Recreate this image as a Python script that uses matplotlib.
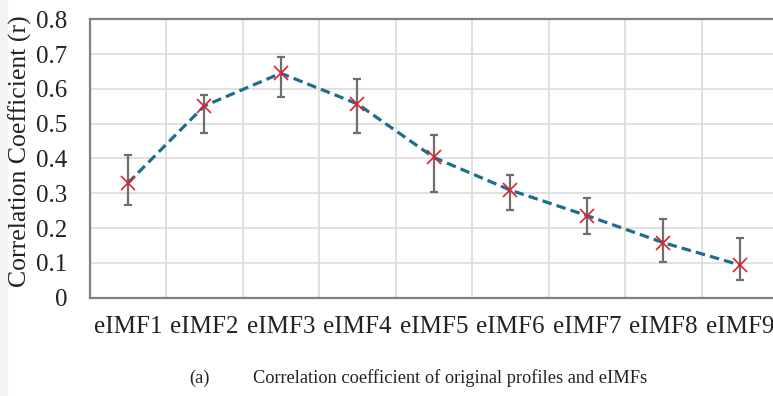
import matplotlib.pyplot as plt
import numpy as np

# correlation coefficient per eIMF, with lower / upper ends of the error bars
labels = ['eIMF1', 'eIMF2', 'eIMF3', 'eIMF4', 'eIMF5', 'eIMF6', 'eIMF7', 'eIMF8', 'eIMF9']
r_mean = [0.329, 0.551, 0.645, 0.557, 0.403, 0.309, 0.236, 0.158, 0.094]
r_low = [0.266, 0.472, 0.578, 0.474, 0.305, 0.251, 0.183, 0.102, 0.051]
r_high = [0.410, 0.583, 0.691, 0.629, 0.467, 0.353, 0.286, 0.226, 0.171]

LINE_C = '#1d6e8e'
MARK_C = '#e3212b'
ERR_C = '#6e6e6e'
GRID_C = '#dcdcdc'
SPINE_C = '#808080'

x = np.arange(len(labels))
y = np.array(r_mean)
yerr = np.array([y - np.array(r_low), np.array(r_high) - y])

fig = plt.figure(figsize=(7.73, 3.96), dpi=100)
fig.patch.set_facecolor('white')
# thin grey strip on the left border of the page scan
fig.add_artist(plt.Rectangle((0, 0), 7 / 773, 1, transform=fig.transFigure,
                             color='#f2f3f5', zorder=0))

ax = fig.add_axes([89.5 / 773, 1 - 297.7 / 396, 688.8 / 773, 278.4 / 396])

ax.errorbar(x, y, yerr=yerr, fmt='none', ecolor=ERR_C, elinewidth=1.6,
            capsize=3, capthick=1.6, zorder=3)
ax.plot(x, y, linestyle=(0, (3.0, 1.6)), color=LINE_C, linewidth=2.3, zorder=4)
ax.plot(x, y, linestyle='none', marker='x', color=MARK_C, markersize=10,
        markeredgewidth=1.2, zorder=5)

ax.set_xlim(-0.5, len(labels) - 0.5)
ax.set_ylim(0, 0.8)
ax.set_yticks(np.arange(0, 0.81, 0.1))
ax.set_yticklabels(['0'] + [f'{v:.1f}' for v in np.arange(0.1, 0.81, 0.1)])
ax.set_xticks(x)
ax.set_xticklabels(labels)
ax.set_xticks(np.arange(0.5, len(labels) - 0.5, 1), minor=True)

ax.grid(which='minor', axis='x', color=GRID_C, linewidth=1.2)
ax.grid(which='major', axis='y', color=GRID_C, linewidth=1.2)
ax.set_axisbelow(True)

for s in ax.spines.values():
    s.set_color(SPINE_C)
    s.set_linewidth(1.6)

font = 'Liberation Serif'
ax.tick_params(which='both', length=0)
ax.tick_params(axis='x', pad=13)
ax.tick_params(axis='y', pad=16)
for lab in ax.get_xticklabels() + ax.get_yticklabels():
    lab.set_fontfamily(font)
    lab.set_fontsize(18)
    lab.set_color('#222222')

fig.text(20 / 773, 1 - 151 / 396, 'Correlation Coefficient (r)', rotation=90,
         ha='center', va='center', fontsize=18.5, family=font, color='#222222')

fig.text(199 / 773, 1 - 378 / 396, '(a)', ha='center', va='center',
         fontsize=13.2, family=font, color='#222222')
fig.text(253 / 773, 1 - 378 / 396, 'Correlation coefficient of original profiles and eIMFs',
         ha='left', va='center', fontsize=13.2, family=font, color='#222222')

fig.savefig('out.png', dpi=100)
